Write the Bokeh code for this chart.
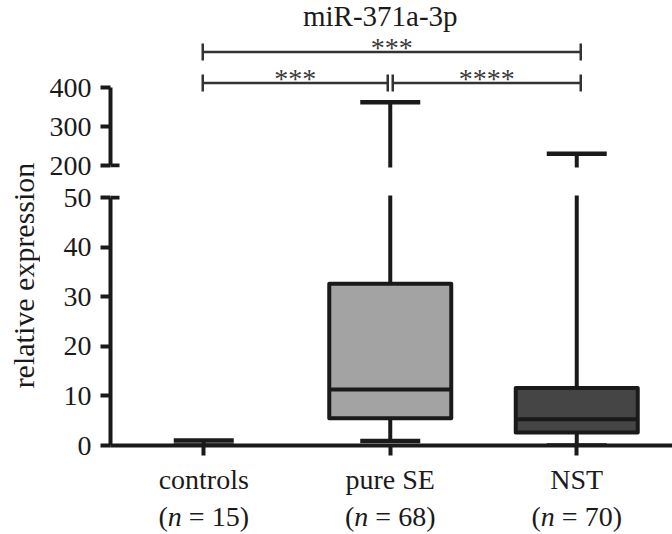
import math
from bokeh.plotting import figure
from bokeh.models import Range1d, FixedTicker, ColumnDataSource
from bokeh.layouts import column, row
from bokeh.core.properties import value
from bokeh.embed import file_html
from bokeh.resources import INLINE

# ---------------- data ----------------
categories = ["controls", "pure SE", "NST"]
group_sizes = [15, 68, 70]
whisker_low = [0.0, 0.9, 0.0]
q1 = [0.0, 5.5, 2.6]
median = [0.0, 11.3, 5.3]
q3 = [0.0, 32.6, 11.6]
whisker_high = [1.0, 362.0, 230.0]
box_colors = ["#ffffff", "#a3a3a3", "#454545"]
lower_ticks = [0, 10, 20, 30, 40, 50]
upper_ticks = [200, 300, 400]
comparisons = [("controls", "NST", "***"),
               ("controls", "pure SE", "***"),
               ("pure SE", "NST", "****")]
title_text = "miR-371a-3p"
y_title = "relative expression"

# ---------------- layout / style ----------------
FONT = "Liberation Serif"
FS = 28
INK = "#1a1a1a"
STAR_INK = "#3a3a3a"
TEXT_SHIFT = 10    # svg text glyphs land this many px below their anchor
PAGE_W, PAGE_H = 672, 534
LABEL_W = 40
LEFT = 70
FRAME_W = PAGE_W - LABEL_W - LEFT
PX_PER_CAT = 186.5
X0 = -0.5
X1 = X0 + FRAME_W / PX_PER_CAT
EDGE = 2           # frames reach this far past the break ticks

# upper panel (page y 0..B)
B = 181
UP_BREAK_PX = 165              # page px of y = 200
UP_TOP_TICK_PX = 87            # page px of y = 400
UP_SCALE = (UP_BREAK_PX - UP_TOP_TICK_PX) / (upper_ticks[-1] - upper_ticks[0])
UP_FRAME_BOTTOM = UP_BREAK_PX + EDGE
UP_LO = upper_ticks[0] - EDGE / UP_SCALE
UP_HI = upper_ticks[0] + UP_BREAK_PX / UP_SCALE

# lower panel (page y B..NB)
NB = 500
LO_BREAK_PX = 197              # page px of y = 50
LO_FRAME_BOTTOM = 445          # page px of y = 0
LO_SCALE = (LO_FRAME_BOTTOM - LO_BREAK_PX) / (lower_ticks[-1] - lower_ticks[0])
LO_FRAME_TOP = LO_BREAK_PX - EDGE
LO_LO = lower_ticks[0]
LO_HI = lower_ticks[-1] + EDGE / LO_SCALE


def upper_y(page_px):
    return upper_ticks[0] + (UP_BREAK_PX - page_px) / UP_SCALE


BOX_W = 122 / PX_PER_CAT
CAP_PX = 60
LW = 4
STUB_PX = 9

xs = list(range(len(categories)))
idx = {c: i for i, c in enumerate(categories)}


def make_fig(h, y_range, btop, bbottom, xloc, yloc="left", left=LEFT):
    p = figure(width=left + FRAME_W, height=h,
               x_range=Range1d(X0, X1), y_range=y_range,
               x_axis_location=xloc, y_axis_location=yloc,
               toolbar_location=None, output_backend="svg", title=None,
               min_border_left=left, min_border_right=0,
               min_border_top=btop, min_border_bottom=bbottom,
               outline_line_color=None,
               background_fill_color="white", border_fill_color="white")
    p.grid.grid_line_color = None
    return p


def style_axis(ax):
    ax.axis_line_width = LW
    ax.axis_line_color = INK
    ax.major_tick_line_width = LW
    ax.major_tick_line_color = INK
    ax.major_tick_out = 10
    ax.major_tick_in = 0
    ax.minor_tick_line_color = None
    ax.major_label_text_font = FONT
    ax.major_label_text_font_size = f"{FS}px"
    ax.major_label_text_color = INK
    ax.major_label_standoff = 9


p1 = make_fig(B, Range1d(UP_LO, UP_HI), 0, B - UP_FRAME_BOTTOM, None)
p2 = make_fig(NB - B, Range1d(LO_LO, LO_HI), LO_FRAME_TOP - B,
              NB - LO_FRAME_BOTTOM, "below")
p3 = make_fig(PAGE_H - NB, Range1d(0, PAGE_H - NB), 0, 0, None, None)

for ax in p1.yaxis:
    style_axis(ax)
    ax.ticker = FixedTicker(ticks=upper_ticks)
    ax.bounds = (upper_ticks[0], upper_ticks[-1])
for ax in p2.yaxis:
    style_axis(ax)
    ax.ticker = FixedTicker(ticks=lower_ticks)
    ax.bounds = (lower_ticks[0], lower_ticks[-1])
for ax in p2.xaxis:
    style_axis(ax)
    ax.ticker = FixedTicker(ticks=xs)
    ax.major_label_overrides = {i: c for i, c in enumerate(categories)}
    ax.major_label_standoff = 8

# axis-break stubs: the end ticks at the break cross the spine
p1.segment(x0=[X0], y0=[upper_ticks[0]], x1=[X0 + STUB_PX / PX_PER_CAT],
           y1=[upper_ticks[0]], line_width=LW, line_color=INK)
p2.segment(x0=[X0], y0=[lower_ticks[-1]], x1=[X0 + STUB_PX / PX_PER_CAT],
           y1=[lower_ticks[-1]], line_width=LW, line_color=INK)

src = ColumnDataSource(dict(x=xs, lo=whisker_low, q1=q1, q3=q3, hi=whisker_high))
has_box = [i for i in xs if q3[i] > q1[i]]
box_src = ColumnDataSource(dict(x=[xs[i] for i in has_box],
                                q1=[q1[i] for i in has_box],
                                q3=[q3[i] for i in has_box],
                                med=[median[i] for i in has_box],
                                color=[box_colors[i] for i in has_box],
                                mx0=[xs[i] - BOX_W / 2 for i in has_box],
                                mx1=[xs[i] + BOX_W / 2 for i in has_box]))

for p in (p1, p2):
    p.segment(x0="x", y0="q3", x1="x", y1="hi", source=src,
              line_width=LW, line_color=INK)
    p.scatter(x="x", y="hi", marker="dash", size=CAP_PX, source=src,
              line_width=LW + 0.5, line_color=INK)

p2.segment(x0="x", y0="lo", x1="x", y1="q1", source=src,
           line_width=LW, line_color=INK)
p2.scatter(x="x", y="lo", marker="dash", size=CAP_PX, source=src,
           line_width=LW + 0.5, line_color=INK)
p2.vbar(x="x", width=BOX_W, bottom="q1", top="q3", source=box_src,
        fill_color="color", line_color=INK, line_width=LW, line_join="round")
p2.segment(x0="mx0", y0="med", x1="mx1", y1="med", source=box_src,
           line_width=LW, line_color=INK)

# significance brackets (upper panel)
bracket_levels_px = [51.5, 82.5, 82.5]
star_baseline_px = [57, 88, 88]
END_PX = 8.5
MID_GAP_PX = 2.5


def bracket_x(cat, side):
    base = idx[cat]
    if cat == categories[1]:
        return base + side * MID_GAP_PX / PX_PER_CAT
    if cat == categories[-1]:
        return base + 4 / PX_PER_CAT
    return base - 1 / PX_PER_CAT


bx0, bx1, by, ex, ey0, ey1, sx, sy, st = [], [], [], [], [], [], [], [], []
for (a, b, stars), lvl, sb in zip(comparisons, bracket_levels_px, star_baseline_px):
    x0 = bracket_x(a, +1)
    x1 = bracket_x(b, -1)
    y = upper_y(lvl)
    bx0.append(x0); bx1.append(x1); by.append(y)
    for xe in (x0, x1):
        ex.append(xe)
        ey0.append(upper_y(lvl + END_PX))
        ey1.append(upper_y(lvl - END_PX))
    sx.append((x0 + x1) / 2)
    sy.append(upper_y(sb - TEXT_SHIFT))
    st.append(stars)

p1.segment(x0=bx0, y0=by, x1=bx1, y1=by, line_width=2.5, line_color="#333333")
p1.segment(x0=ex, y0=ey0, x1=ex, y1=ey1, line_width=2.5, line_color="#333333")
p1.text(x=sx, y=sy, text=st, text_align="center", text_baseline="alphabetic",
        text_font=value(FONT), text_font_size=f"{FS}px", text_color=STAR_INK)

p1.text(x=[xs[1]], y=[upper_y(25 - TEXT_SHIFT)], text=[title_text], x_offset=-10,
        text_align="center", text_baseline="alphabetic",
        text_font=value(FONT), text_font_size="29px", text_color=INK)

# second line of category labels: (n = NN) with italic n
ADV = {"(": 0.333, ")": 0.333, "n": 0.5, " ": 0.25, "=": 0.564}
N_BASELINE_PX = 526
tx, ty, tt, toff, tsty = [], [], [], [], []
for i, n in enumerate(group_sizes):
    rest = f"= {n})"
    total = ADV["("] + ADV["n"] + ADV[" "] + sum(ADV.get(ch, 0.5) for ch in rest)
    left = -total * FS / 2
    parts = [("(", "normal", left),
             ("n", "italic", left + ADV["("] * FS),
             (rest, "normal", left + (ADV["("] + ADV["n"] + ADV[" "]) * FS)]
    for txt, style, off in parts:
        tx.append(xs[i]); ty.append(PAGE_H - (N_BASELINE_PX - TEXT_SHIFT))
        tt.append(txt); toff.append(off); tsty.append(style)
nsrc = ColumnDataSource(dict(x=tx, y=ty, text=tt, off=toff, style=tsty))
p3.text(x="x", y="y", text="text", x_offset="off", text_font_style="style",
        source=nsrc, text_align="left", text_baseline="alphabetic",
        text_font=value(FONT), text_font_size=f"{FS}px", text_color=INK)

# y title strip
yfig = figure(width=LABEL_W, height=PAGE_H, x_range=Range1d(0, LABEL_W),
              y_range=Range1d(0, PAGE_H), x_axis_location=None,
              y_axis_location=None, toolbar_location=None, output_backend="svg",
              title=None, min_border=0, outline_line_color=None,
              background_fill_color="white", border_fill_color="white")
yfig.grid.grid_line_color = None
yfig.text(x=[33 - TEXT_SHIFT], y=[PAGE_H - 275], text=[y_title], angle=math.pi / 2,
          text_align="center", text_baseline="alphabetic",
          text_font=value(FONT), text_font_size="30px", text_color=INK)

layout = row(yfig, column(p1, p2, p3))
open("out.html", "w").write(file_html(layout, INLINE))
